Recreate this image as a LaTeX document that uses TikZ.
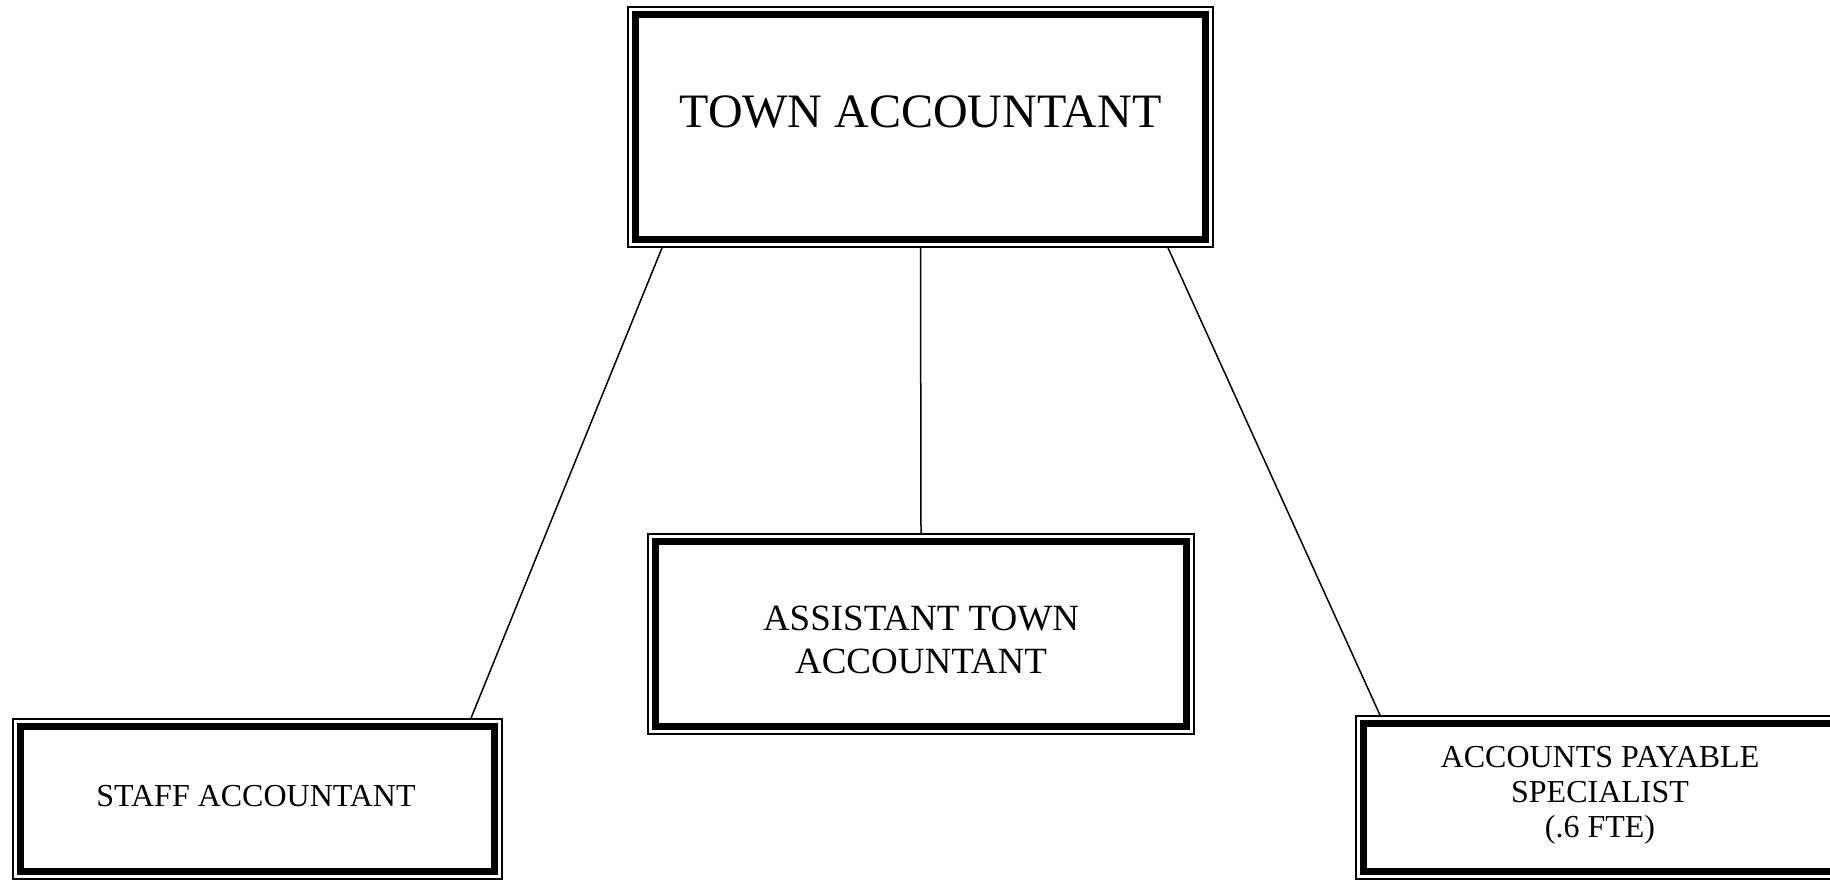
\documentclass[tikz,border=0pt]{standalone}
\usepackage{fontspec}
\setmainfont{Liberation Serif}
\begin{document}
\begin{tikzpicture}[
  orgbox/.style={draw, line width=1.8pt, inner sep=0pt},
  orgtext/.style={align=center, inner sep=0pt, anchor=base},
  link/.style={line width=1.5pt}
]
\useasboundingbox (0,0) rectangle (1830pt,-879pt);
\clip (0,0) rectangle (1830pt,-879pt);

% boxes: thin outer frame
\node[orgbox, minimum width=585pt, minimum height=240pt] (top)   at (920.5pt,-127pt) {};
\node[orgbox, minimum width=546pt, minimum height=200pt] (asst)  at (921pt,-634pt) {};
\node[orgbox, minimum width=489pt, minimum height=160pt] (staff) at (257.5pt,-799pt) {};
\node[orgbox, minimum width=488pt, minimum height=163pt] (ap)    at (1600pt,-797.5pt) {};

% thick inner frame of each box
\foreach \n in {top,asst,staff,ap}
  \draw[line width=7pt] ([shift={(8pt,-8pt)}]\n.north west) rectangle ([shift={(-8pt,8pt)}]\n.south east);

% titles (base anchor sits on the last line)
\node[orgtext, font=\fontsize{48}{58}\selectfont] (topT) at (920.5pt,-127pt) {TOWN ACCOUNTANT};
\node[orgtext, font=\fontsize{37}{43}\selectfont] (asstT) at (921pt,-673pt) {ASSISTANT TOWN\\ACCOUNTANT};
\node[orgtext, font=\fontsize{32}{38}\selectfont] (staffT) at (256pt,-806pt) {STAFF ACCOUNTANT};
\node[orgtext, font=\fontsize{32}{35}\selectfont] (apT) at (1600pt,-837pt) {ACCOUNTS PAYABLE\\SPECIALIST\\(.6 FTE)};

% reporting lines
\draw[link] ([xshift=-258.5pt]top.south) -- ([xshift=213.5pt]staff.north);
\draw[link] (top.south) -- (asst.north);
\draw[link] ([xshift=247.5pt]top.south) -- ([xshift=-220pt]ap.north);
\end{tikzpicture}
\end{document}
